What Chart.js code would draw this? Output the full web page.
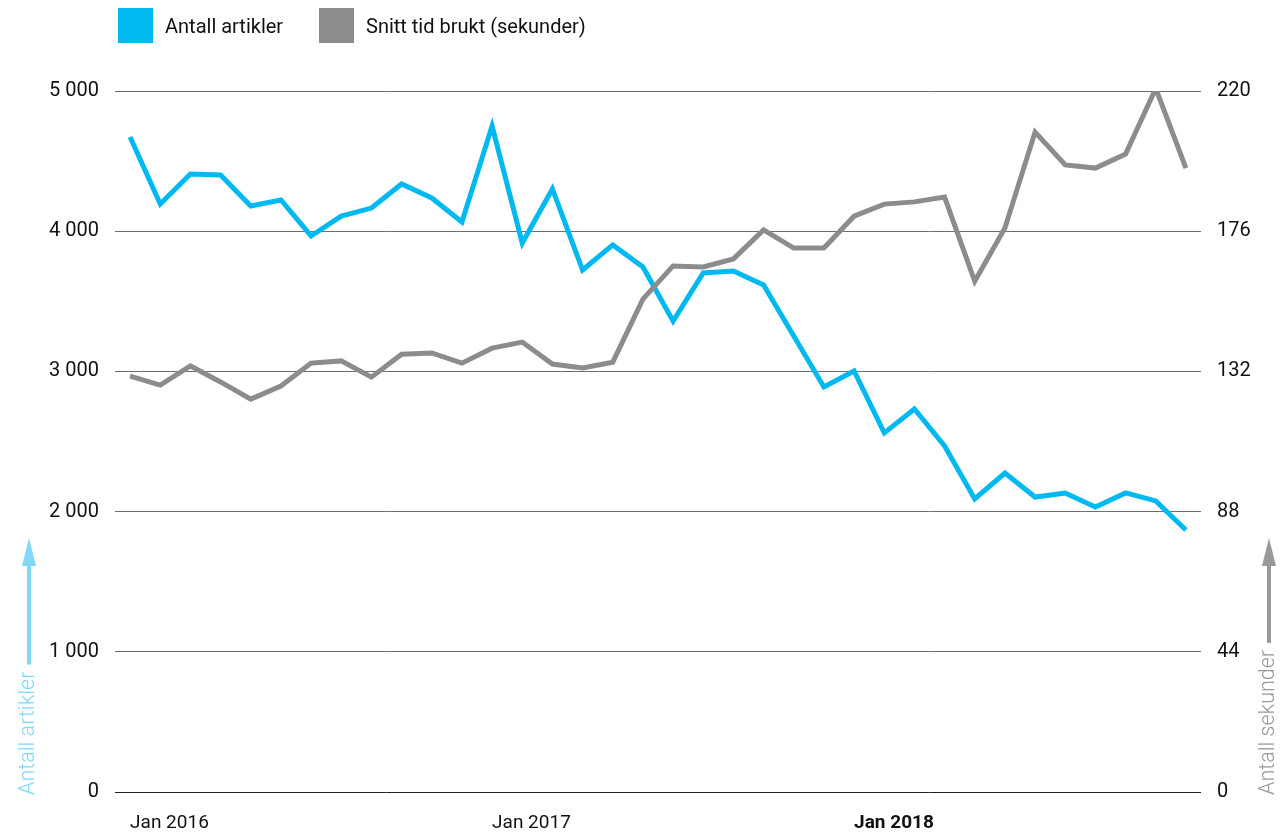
<!DOCTYPE html>
<html>
<head>
<meta charset="utf-8">
<script src="https://cdn.jsdelivr.net/npm/chart.js@4"></script>
<style>
body{margin:0;background:#fff;font-family:Roboto, sans-serif;}
#wrap{position:relative;width:1284px;height:836px;}
.legend{position:absolute;top:8px;height:35px;display:flex;align-items:center;font-size:20px;color:#111;}
.sw{display:inline-block;width:35px;height:35px;margin-right:12px;}
</style>
</head>
<body>
<div id="wrap">
<canvas id="chart" width="1284" height="836"></canvas>
<div class="legend" style="left:118px"><span class="sw" style="background:#00b9f1"></span>Antall artikler</div>
<div class="legend" style="left:319px"><span class="sw" style="background:#8c8c8c"></span>Snitt tid brukt (sekunder)</div>
</div>
<script>
/* ===========================
   DATA
=========================== */

const monthNames = ["Jan","Feb","Mar","Apr","Mai","Jun","Jul","Aug","Sep","Okt","Nov","Des"];

const years = [2016, 2017, 2018];

const labels = [];

years.forEach(y=>{
    monthNames.forEach(m=>{
        labels.push(m + " " + y);
    });
});

// Antall artikler (left axis)
const articles = [
    4672, 4194, 4408, 4401, 4180, 4223, 3966, 4108, 4165, 4337, 4237, 4066,
    4750, 3916, 4301, 3723, 3902, 3745, 3359, 3702, 3716, 3616, 3252, 2889,
    3003, 2561, 2732, 2468, 2090, 2275, 2104, 2133, 2033, 2133, 2076, 1869
];

// Snitt tid brukt, sekunder (right axis)
const seconds = [
    130.5, 127.7, 133.7, 128.7, 123.3, 127.4, 134.6, 135.3, 130.2, 137.4, 137.8, 134.6,
    139.3, 141.2, 134.3, 133.1, 134.9, 154.7, 165.1, 164.8, 167.3, 176.4, 170.7, 170.7,
    180.7, 184.5, 185.2, 186.7, 160.3, 177.0, 207.1, 196.8, 195.8, 200.2, 220.8, 195.8
];

const BLUE = "#00b9f1";
const GRAY = "#8c8c8c";

/* ===========================
   AXIS TITLES WITH ARROWS
=========================== */

function drawAxisTitle(ctx, x, bottom, text, color){

    ctx.save();

    ctx.font = "300 21.5px Roboto";

    const w = ctx.measureText(text).width;

    ctx.translate(x, bottom);

    ctx.rotate(-Math.PI/2);

    ctx.fillStyle = color;

    ctx.textAlign = "left";

    ctx.textBaseline = "middle";

    ctx.fillText(text, 0, 0);

    ctx.restore();

    // arrow
    const start = bottom - w - 7;

    const tip = 538;

    ctx.save();

    ctx.strokeStyle = color;

    ctx.fillStyle = color;

    ctx.lineWidth = 4;

    ctx.beginPath();

    ctx.moveTo(x, start);

    ctx.lineTo(x, tip + 24);

    ctx.stroke();

    ctx.beginPath();

    ctx.moveTo(x, tip);

    ctx.lineTo(x - 7, tip + 28);

    ctx.lineTo(x + 7, tip + 28);

    ctx.closePath();

    ctx.fill();

    ctx.restore();

}

const axisTitles = {

    id:"axisTitles",

    afterDraw(chart){

        drawAxisTitle(chart.ctx, 29, 795, "Antall artikler", "#80d8f6");

        drawAxisTitle(chart.ctx, 1269, 795, "Antall sekunder", "#999999");

    }

};

/* ===========================
   CHART
=========================== */

Chart.defaults.font.family = "Roboto";

Chart.defaults.color = "#111";

new Chart(

    document.getElementById("chart"),

    {

        type:"line",

        data:{

            labels,

            datasets:[

                {
                    label:"Antall artikler",
                    data:articles,
                    yAxisID:"y",
                    borderColor:BLUE,
                    backgroundColor:BLUE,
                    borderWidth:5,
                    pointRadius:0,
                    tension:0,
                    order:2
                },

                {
                    label:"Snitt tid brukt (sekunder)",
                    data:seconds,
                    yAxisID:"y2",
                    borderColor:GRAY,
                    backgroundColor:GRAY,
                    borderWidth:5,
                    pointRadius:0,
                    tension:0,
                    order:1
                }

            ]

        },

        options:{

            responsive:false,

            animation:false,

            devicePixelRatio:1,

            layout:{
                padding:{top:91, left:0, right:0, bottom:0}
            },

            plugins:{
                legend:{display:false},
                tooltip:{enabled:false}
            },

            scales:{

                x:{
                    offset:true,
                    grid:{display:false, drawTicks:false},
                    border:{display:false},
                    afterFit(s){ s.height = 44; },
                    ticks:{
                        autoSkip:false,
                        maxRotation:0,
                        align:"start",
                        padding:20,
                        font:(c)=>({size:19, weight: c.index===24 ? "bold" : "normal"}),
                        callback:(v,i)=> labels[i].startsWith("Jan") ? labels[i] : ""
                    }
                },

                y:{
                    position:"left",
                    min:0,
                    max:5000,
                    afterFit(s){ s.width = 115; },
                    border:{display:false},
                    grid:{
                        drawTicks:false,
                        color:(c)=> c.index===0 ? "#222" : "#6e6e6e",
                        lineWidth:1
                    },
                    ticks:{
                        stepSize:1000,
                        padding:16,
                        font:{size:20},
                        callback:(v)=> v>=1000 ? Math.floor(v/1000) + " " + String(v%1000).padStart(3,"0") : String(v)
                    }
                },

                y2:{
                    position:"right",
                    min:0,
                    max:220,
                    afterFit(s){ s.width = 83; },
                    border:{display:false},
                    grid:{display:false, drawTicks:false},
                    ticks:{
                        stepSize:44,
                        padding:16,
                        font:{size:20}
                    }
                }

            }

        },

        plugins:[axisTitles]

    }

);
</script>
</body>
</html>
